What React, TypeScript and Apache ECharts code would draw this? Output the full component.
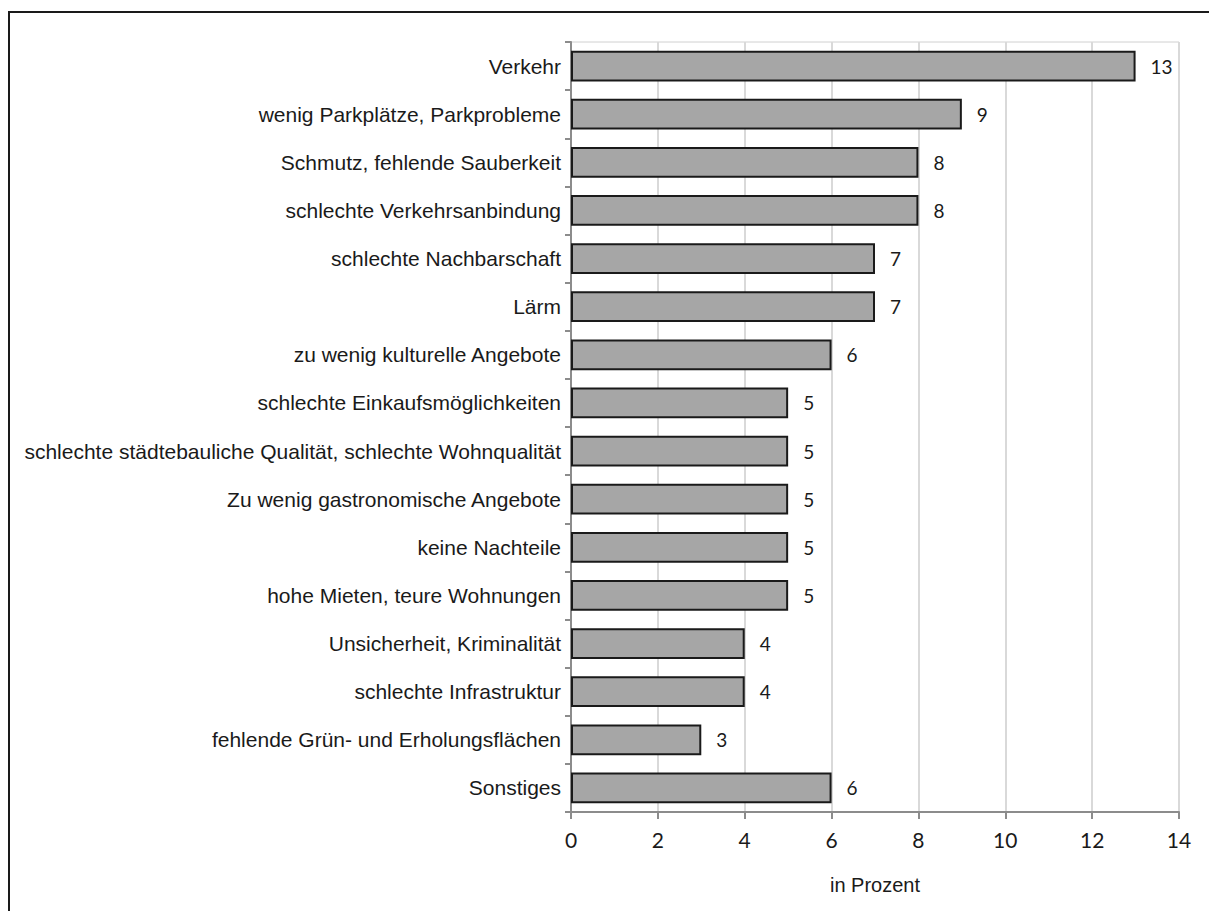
import React, { useEffect, useRef } from "react";
import * as echarts from "echarts";

const categories = [
  "Verkehr",
  "wenig Parkplätze, Parkprobleme",
  "Schmutz, fehlende Sauberkeit",
  "schlechte Verkehrsanbindung",
  "schlechte Nachbarschaft",
  "Lärm",
  "zu wenig kulturelle Angebote",
  "schlechte Einkaufsmöglichkeiten",
  "schlechte städtebauliche Qualität, schlechte Wohnqualität",
  "Zu wenig gastronomische Angebote",
  "keine Nachteile",
  "hohe Mieten, teure Wohnungen",
  "Unsicherheit, Kriminalität",
  "schlechte Infrastruktur",
  "fehlende Grün- und Erholungsflächen",
  "Sonstiges",
];
const values = [13, 9, 8, 8, 7, 7, 6, 5, 5, 5, 5, 5, 4, 4, 3, 6];
const xMin = 0;
const xMax = 14;
const xInterval = 2;
const xAxisName = "in Prozent";

export default function App() {
  const ref = useRef<HTMLDivElement>(null);
  useEffect(() => {
    if (!ref.current) return;
    const chart = echarts.init(ref.current, null, { renderer: "svg" });
    chart.setOption({
      animation: false,
      backgroundColor: "#ffffff",
      graphic: [
        {
          type: "rect",
          shape: { x: 9, y: 12, width: 1400, height: 1100 },
          style: { fill: "none", stroke: "#1a1a1a", lineWidth: 2 },
          silent: true,
        },
      ],
      grid: {
        left: 571,
        right: 30,
        top: 42,
        bottom: 99,
        show: true,
        borderColor: "#d0d0d0",
        borderWidth: 1,
        containLabel: false,
      },
      xAxis: {
        type: "value",
        min: xMin,
        max: xMax,
        interval: xInterval,
        name: xAxisName,
        nameLocation: "middle",
        nameGap: 63,
        nameTextStyle: { fontFamily: "Liberation Sans", fontSize: 20, color: "#1a1a1a" },
        axisLine: { show: true, lineStyle: { color: "#8c8c8c", width: 2 } },
        axisTick: { show: true, length: 7, lineStyle: { color: "#8c8c8c", width: 2 } },
        axisLabel: { fontFamily: "Lato", fontSize: 21, color: "#1a1a1a", margin: 17 },
        splitLine: { show: true, lineStyle: { color: "#d9d9d9", width: 2 } },
      },
      yAxis: {
        type: "category",
        data: categories,
        inverse: true,
        axisLine: { show: true, lineStyle: { color: "#8c8c8c", width: 2 } },
        axisTick: { show: true, length: 6, lineStyle: { color: "#8c8c8c", width: 2 } },
        axisLabel: { fontFamily: "Liberation Sans", fontSize: 21, color: "#1a1a1a", margin: 10 },
        splitLine: { show: false },
      },
      series: [
        {
          type: "bar",
          data: values,
          barWidth: "64%",
          itemStyle: { color: "#a6a6a6", borderColor: "#1a1a1a", borderWidth: 2 },
          label: {
            show: true,
            position: "right",
            distance: 15,
            fontFamily: "Lato",
            fontSize: 19,
            color: "#1a1a1a",
          },
        },
      ],
    });
    return () => chart.dispose();
  }, []);
  return (
    <div
      ref={ref}
      style={{ position: "absolute", left: 0, top: 0, width: 1209, height: 911 }}
    />
  );
}
